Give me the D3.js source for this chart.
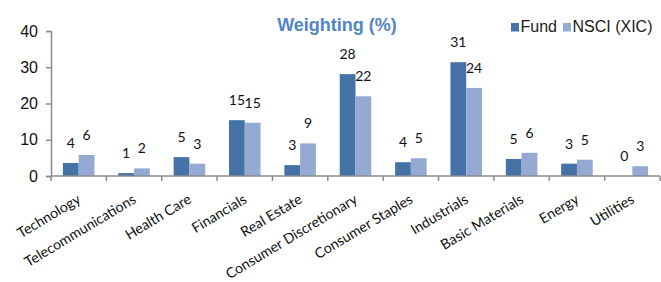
<!DOCTYPE html>
<html>
<head>
<meta charset="utf-8">
<script src="https://cdn.jsdelivr.net/npm/d3@7"></script>
<style>
  body { margin: 0; background: #fff; }
</style>
</head>
<body>
<div id="target"></div>
<script>
// sector weights
let categories = ["Technology", "Telecommunications", "Health Care", "Financials", "Real Estate",
    "Consumer Discretionary", "Consumer Staples", "Industrials", "Basic Materials", "Energy", "Utilities"]
let fundValues = [3.6, 0.8, 5.2, 15.4, 3.0, 28.1, 3.8, 31.4, 4.7, 3.4, 0]
let indexValues = [5.8, 2.1, 3.4, 14.7, 9.0, 22.0, 4.9, 24.3, 6.4, 4.5, 2.7]
let seriesNames = ["Fund", "NSCI (XIC)"]
let yTicks = [0, 10, 20, 30, 40]

let width = 661, height = 282
let plotLeft = 51, plotRight = 660, plotTop = 31, plotBottom = 176
let colors = ["#4572a7", "#94aad2"]

let svg = d3.select("#target").append("svg")
svg.attr("width", width).attr("height", height)

let y = d3.scaleLinear().domain([0, 40]).range([plotBottom, plotTop])
let x = d3.scaleBand().domain(categories).range([plotLeft, plotRight]).paddingInner(0.43).paddingOuter(0.215)
let xs = d3.scaleBand().domain([0, 1]).range([0, x.bandwidth()])

// title
svg.append("text")
    .attr("x", 337).attr("y", 31)
    .attr("text-anchor", "middle")
    .attr("font-family", "Liberation Sans, Arial, sans-serif")
    .attr("font-weight", "bold")
    .attr("font-size", 18)
    .attr("fill", "#5285c4")
    .text("Weighting (%)")

// legend
let legend = svg.append("g").attr("transform", "translate(511,23)")
let lx = [0, 52]
seriesNames.forEach((name, i) => {
    let g = legend.append("g").attr("transform", `translate(${lx[i]},0)`)
    g.append("rect").attr("width", 8).attr("height", 8.5).attr("fill", colors[i])
    g.append("text").attr("x", 9.5).attr("y", 8.5)
        .attr("font-family", "Liberation Sans, Arial, sans-serif")
        .attr("font-size", 16).attr("fill", "#1a1a1a")
        .text(name)
})

// y axis
let yAxis = svg.append("g").attr("transform", `translate(${plotLeft},0)`)
    .call(d3.axisLeft(y).tickValues(yTicks).tickSize(5).tickPadding(8))
yAxis.select(".domain").attr("stroke", "#8c8c8c").attr("stroke-width", 1.5)
yAxis.selectAll(".tick line").attr("stroke", "#8c8c8c").attr("stroke-width", 1.5)
yAxis.selectAll(".tick text")
    .attr("font-family", "Liberation Sans, Arial, sans-serif")
    .attr("font-size", 16).attr("fill", "#111")

// bars
let groups = svg.append("g").selectAll("g").data(categories).enter().append("g")
    .attr("transform", d => `translate(${x(d)},0)`)
let vals = [fundValues, indexValues]
vals.forEach((arr, s) => {
    groups.append("rect")
        .attr("x", xs(s))
        .attr("y", (d, i) => y(arr[i]))
        .attr("width", xs.bandwidth())
        .attr("height", (d, i) => y(0) - y(arr[i]))
        .attr("fill", colors[s])
    groups.append("text")
        .attr("x", xs(s) + xs.bandwidth() / 2)
        .attr("y", (d, i) => y(arr[i]) - 15)
        .attr("text-anchor", "middle")
        .attr("font-family", "Lato, Open Sans, sans-serif")
        .attr("font-size", 14).attr("fill", "#111")
        .text((d, i) => Math.round(arr[i]))
})

// x axis: line with ticks at category boundaries
let xg = svg.append("g")
xg.append("line").attr("x1", plotLeft).attr("x2", plotRight).attr("y1", plotBottom).attr("y2", plotBottom)
    .attr("stroke", "#8c8c8c").attr("stroke-width", 1.5)
let bounds = categories.map(c => x(c) - x.step() * x.paddingOuter()).concat([plotRight])
xg.selectAll(".tk").data(bounds).enter().append("line")
    .attr("x1", d => d).attr("x2", d => d)
    .attr("y1", plotBottom).attr("y2", plotBottom + 5)
    .attr("stroke", "#8c8c8c").attr("stroke-width", 1.5)

xg.selectAll(".lbl").data(categories).enter().append("text")
    .attr("transform", d => `translate(${x(d) + x.bandwidth() / 2 + 3},${plotBottom + 26}) rotate(-31)`)
    .attr("text-anchor", "end")
    .attr("font-family", "Lato, Open Sans, sans-serif")
    .attr("font-size", 14.2).attr("fill", "#111")
    .text(d => d)
</script>
</body>
</html>
